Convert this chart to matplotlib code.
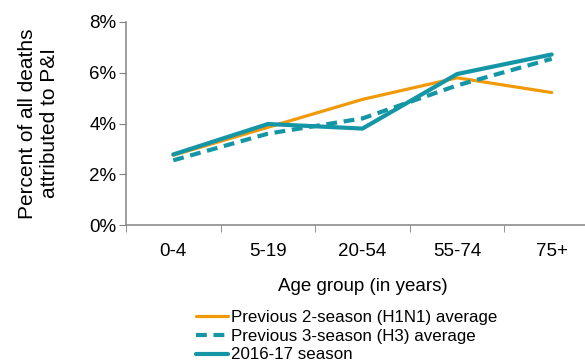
import matplotlib
matplotlib.use("Agg")
import matplotlib.pyplot as plt
from matplotlib.ticker import FuncFormatter, FixedLocator

plt.rcParams['font.family'] = ['Liberation Sans', 'DejaVu Sans']

categories = ["0-4", "5-19", "20-54", "55-74", "75+"]
prev2_h1n1 = [2.75, 3.85, 4.95, 5.8, 5.22]
prev3_h3 = [2.55, 3.6, 4.2, 5.5, 6.55]
season_2016_17 = [2.78, 3.98, 3.8, 5.95, 6.72]
yticks = [0, 2, 4, 6, 8]

fig = plt.figure(figsize=(5.85, 3.64), dpi=100)
W, H = 585, 364
left, right, top, bottom = 126, 599, 22, 225
ax = fig.add_axes([left / W, 1 - bottom / H, (right - left) / W, (bottom - top) / H])

x = list(range(len(categories)))
orange = "#F09A0A"
teal = "#1496A6"
ax.plot(x, prev2_h1n1, color=orange, lw=2.3, label="Previous 2-season (H1N1) average", solid_capstyle='round', zorder=2)
ax.plot(x, prev3_h3, color=teal, lw=3.0, ls=(0, (2.6, 1.6)), label="Previous 3-season (H3) average", zorder=3)
ax.plot(x, season_2016_17, color=teal, lw=3.0, label="2016-17 season", solid_capstyle='round', zorder=4)

ax.set_xlim(-0.5, len(categories) - 0.5)
ax.set_ylim(0, 8)
ax.set_yticks(yticks)
ax.yaxis.set_major_formatter(FuncFormatter(lambda v, p: f"{int(v)}%"))
ax.set_xticks(x)
ax.set_xticklabels(categories)
ax.xaxis.set_minor_locator(FixedLocator([i - 0.5 for i in range(len(categories) + 1)]))
ax.tick_params(axis='x', which='major', length=0, labelsize=13.5, pad=13)
ax.tick_params(axis='x', which='minor', length=5, color="#808080", direction='out')
ax.tick_params(axis='y', length=5, color="#808080", labelsize=13.5, pad=2)

for s in ['top', 'right']:
    ax.spines[s].set_visible(False)
for s in ['left', 'bottom']:
    ax.spines[s].set_color("#8c8c8c")
    ax.spines[s].set_linewidth(1.2)

ax.set_xlabel("Age group (in years)", fontsize=13.5, labelpad=13)
ax.set_ylabel("Percent of all deaths\nattributed to P&I", fontsize=15, linespacing=1.2, labelpad=22)

leg = fig.legend(loc='upper left', bbox_to_anchor=(196 / W, 1 - 310 / H), frameon=False,
                 fontsize=12.2, handlelength=1.9, handletextpad=0.15, labelspacing=0.22,
                 borderpad=0, borderaxespad=0)

fig.savefig("out.png", dpi=100)
